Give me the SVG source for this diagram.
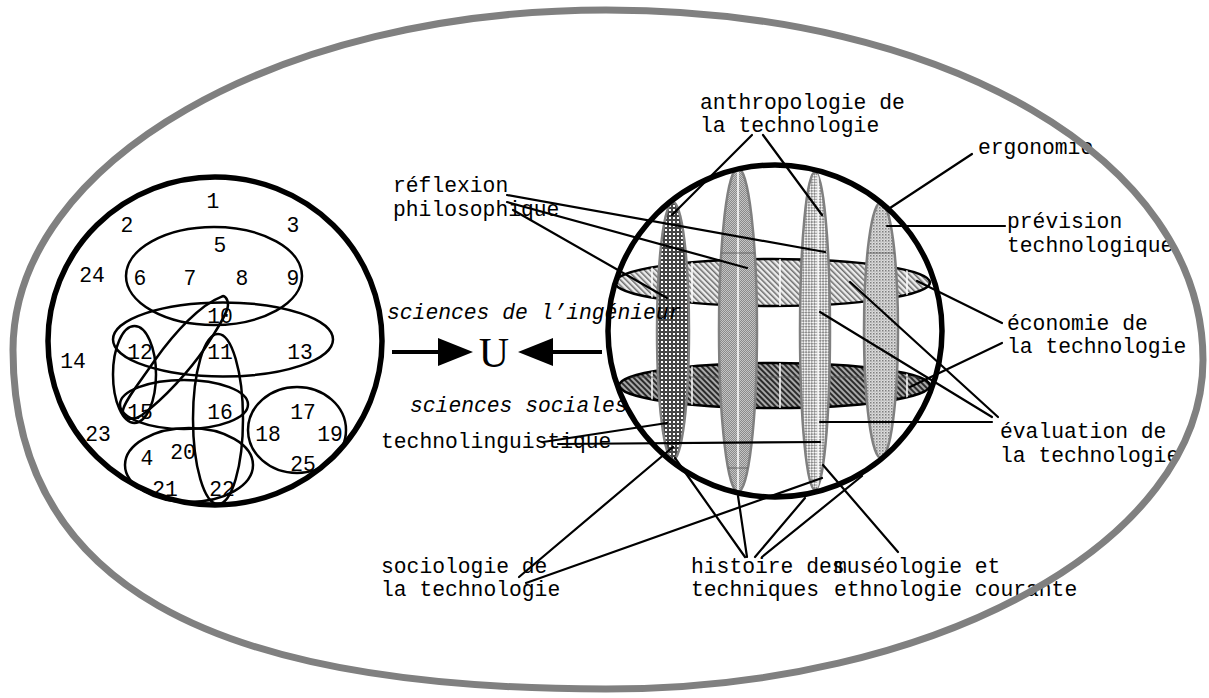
<svg xmlns="http://www.w3.org/2000/svg" width="1209" height="698" viewBox="0 0 1209 698">
<defs>
<style>
.num{font-family:"Liberation Mono","Courier New",monospace;font-size:21.33px;fill:#000;text-anchor:middle}
.lbl{font-family:"Liberation Mono","Courier New",monospace;font-size:21.33px;fill:#000}
.it{font-style:italic}
.set{fill:none;stroke:#000;stroke-width:2.5}
.con{stroke:#000;stroke-width:2.2;fill:none;stroke-linecap:round}
.vert{stroke:#808080;stroke-width:2.5}
.disk{stroke:#000;stroke-width:2.5}
.wl{stroke:#fff;stroke-width:1.5}
.gl{stroke:#555;stroke-width:0.8}
</style>
<pattern id="pD1" width="4" height="4" patternUnits="userSpaceOnUse" patternTransform="rotate(-45)">
<rect width="4" height="4" fill="#ececec"/><rect width="1.5" height="4" fill="#6a6a6a"/>
</pattern>
<pattern id="pD2" width="4" height="4" patternUnits="userSpaceOnUse" patternTransform="rotate(-45)">
<rect width="4" height="4" fill="#a8a8a8"/><rect width="2" height="4" fill="#2a2a2a"/>
</pattern>
<pattern id="pV1" width="4" height="4" patternUnits="userSpaceOnUse">
<rect width="4" height="4" fill="#444"/><rect x="1" y="1" width="2" height="2" fill="#fff"/>
</pattern>
<pattern id="pV2" width="2" height="2" patternUnits="userSpaceOnUse">
<rect width="2" height="2" fill="#8a8a8a"/><rect width="1" height="1" fill="#c4c4c4"/><rect x="1" y="1" width="1" height="1" fill="#c4c4c4"/>
</pattern>
<pattern id="pV3" width="4" height="4" patternUnits="userSpaceOnUse" patternTransform="rotate(45)">
<rect width="4" height="4" fill="#f4f4f4"/><rect width="2" height="2" fill="#8c8c8c"/><rect x="2" y="2" width="2" height="2" fill="#8c8c8c"/>
</pattern>
<pattern id="pV4" width="3" height="3" patternUnits="userSpaceOnUse">
<rect width="3" height="3" fill="#dcdcdc"/><rect width="1.5" height="1.5" fill="#7e7e7e"/><rect x="1.5" y="1.5" width="1" height="1" fill="#9a9a9a"/>
</pattern>
<clipPath id="cD1"><ellipse cx="772.5" cy="282.5" rx="157.5" ry="23.5"/></clipPath>
<clipPath id="cD2"><ellipse cx="774.5" cy="385.5" rx="155.5" ry="22.5"/></clipPath>
<clipPath id="cV2"><ellipse cx="738" cy="330" rx="19" ry="162"/></clipPath>
<clipPath id="cV3"><ellipse cx="815" cy="331" rx="15" ry="159"/></clipPath>
<clipPath id="cV4"><ellipse cx="881" cy="330" rx="17" ry="128"/></clipPath>
</defs>

<rect width="1209" height="698" fill="#fff"/>

<!-- left set diagram -->
<g id="left-set">
<ellipse cx="215" cy="341" rx="167" ry="164" fill="none" stroke="#000" stroke-width="5.5"/>
<ellipse class="set" cx="214" cy="276" rx="88" ry="49"/>
<ellipse class="set" cx="223" cy="339.5" rx="110" ry="37"/>
<ellipse class="set" cx="134.5" cy="374.5" rx="21.5" ry="48.5"/>
<ellipse class="set" cx="184" cy="404.5" rx="64" ry="24.5"/>
<ellipse class="set" cx="218" cy="419" rx="25" ry="85"/>
<ellipse class="set" cx="297" cy="430" rx="49" ry="43"/>
<ellipse class="set" cx="189" cy="465" rx="64" ry="37"/>
<path class="set" d="M221.7,296.7 C200,305 175,332 155,360 C140,382 125,400 123,410 C121,420 133,421 142,415 C165,398 190,370 205,348 C218,328 228,312 228,305 C228,298 224,295 221.7,296.7 Z"/>
<text class="num" x="213" y="208">1</text>
<text class="num" x="127" y="232">2</text>
<text class="num" x="293" y="232">3</text>
<text class="num" x="220" y="252">5</text>
<text class="num" x="92" y="282">24</text>
<text class="num" x="140" y="285">6</text>
<text class="num" x="190" y="285">7</text>
<text class="num" x="242" y="285">8</text>
<text class="num" x="293" y="285">9</text>
<text class="num" x="220" y="323">10</text>
<text class="num" x="140" y="359">12</text>
<text class="num" x="220" y="359">11</text>
<text class="num" x="300" y="359">13</text>
<text class="num" x="73" y="368">14</text>
<text class="num" x="140" y="419">15</text>
<text class="num" x="220" y="419">16</text>
<text class="num" x="303" y="419">17</text>
<text class="num" x="268" y="441">18</text>
<text class="num" x="330" y="441">19</text>
<text class="num" x="98" y="441">23</text>
<text class="num" x="147" y="465">4</text>
<text class="num" x="183" y="459">20</text>
<text class="num" x="303" y="471">25</text>
<text class="num" x="165" y="496">21</text>
<text class="num" x="222" y="496">22</text>
</g>

<!-- right sphere -->
<g id="sphere">
<ellipse cx="772.5" cy="282.5" rx="157.5" ry="23.5" fill="url(#pD1)" class="disk"/>
<g clip-path="url(#cD1)">
<line class="wl" x1="652" y1="250" x2="652" y2="315"/>
<line class="wl" x1="692" y1="250" x2="692" y2="315"/>
<line class="wl" x1="780" y1="250" x2="780" y2="315"/>
<line class="wl" x1="907" y1="250" x2="907" y2="315"/>
</g>
<ellipse cx="774.5" cy="385.5" rx="155.5" ry="22.5" fill="url(#pD2)" class="disk"/>
<g clip-path="url(#cD2)">
<line class="wl" x1="652" y1="355" x2="652" y2="415"/>
<line class="wl" x1="692" y1="355" x2="692" y2="415"/>
<line class="wl" x1="780" y1="355" x2="780" y2="415"/>
<line class="wl" x1="907" y1="355" x2="907" y2="415"/>
<line class="gl" x1="615" y1="377" x2="935" y2="377"/>
</g>
<ellipse cx="673" cy="331" rx="16" ry="129" fill="url(#pV1)" class="vert"/>
<ellipse cx="738" cy="330" rx="19" ry="162" fill="url(#pV2)" class="vert"/>
<g clip-path="url(#cV2)">
<line class="wl" x1="738" y1="165" x2="738" y2="495"/>
<line class="gl" x1="715" y1="253" x2="760" y2="253"/>
<line class="gl" x1="715" y1="468" x2="760" y2="468"/>
</g>
<ellipse cx="815" cy="331" rx="15" ry="159" fill="url(#pV3)" class="vert"/>
<g clip-path="url(#cV3)">
<line class="wl" x1="818" y1="170" x2="818" y2="492"/>
</g>
<ellipse cx="881" cy="330" rx="17" ry="128" fill="url(#pV4)" class="vert"/>
<g clip-path="url(#cV4)">
<line class="gl" x1="860" y1="253" x2="900" y2="253"/>
</g>
<ellipse cx="775" cy="331" rx="167" ry="166" fill="none" stroke="#000" stroke-width="5.5"/>
</g>

<!-- union -->
<g id="union">
<line x1="392" y1="352" x2="442" y2="352" stroke="#000" stroke-width="4"/>
<polygon points="438,338 473,352 438,366" fill="#000"/>
<line x1="549" y1="352" x2="602" y2="352" stroke="#000" stroke-width="4"/>
<polygon points="553,338 518,352 553,366" fill="#000"/>
<text x="494" y="367" font-family="Liberation Serif, Times New Roman, serif" font-size="42" text-anchor="middle">U</text>
</g>

<!-- labels -->
<g id="lbl-ingenieur"><text class="lbl it" x="387" y="319">sciences de l’ingénieur</text></g>
<g id="lbl-sociales"><text class="lbl it" x="410" y="412">sciences sociales</text></g>
<g id="lbl-reflexion"><text class="lbl" x="393" y="192">réflexion</text><text class="lbl" x="393" y="216">philosophique</text></g>
<g id="lbl-anthropologie"><text class="lbl" x="700" y="109">anthropologie de</text><text class="lbl" x="700" y="132">la technologie</text></g>
<g id="lbl-ergonomie"><text class="lbl" x="978" y="154">ergonomie</text></g>
<g id="lbl-prevision"><text class="lbl" x="1007" y="228">prévision</text><text class="lbl" x="1007" y="252">technologique</text></g>
<g id="lbl-economie"><text class="lbl" x="1007" y="330">économie de</text><text class="lbl" x="1007" y="353">la technologie</text></g>
<g id="lbl-evaluation"><text class="lbl" x="1000" y="438">évaluation de</text><text class="lbl" x="1000" y="462">la technologie</text></g>
<g id="lbl-technolinguistique"><text class="lbl" x="381" y="448">technolinguistique</text></g>
<g id="lbl-sociologie"><text class="lbl" x="381" y="573">sociologie de</text><text class="lbl" x="381" y="596">la technologie</text></g>
<g id="lbl-histoire"><text class="lbl" x="691" y="573">histoire des</text><text class="lbl" x="691" y="596">techniques</text></g>
<g id="lbl-museologie"><text class="lbl" x="834" y="573">muséologie et</text><text class="lbl" x="834" y="596">ethnologie courante</text></g>

<!-- connectors -->
<g id="connectors">
<line class="con" x1="752" y1="135" x2="672" y2="215"/>
<line class="con" x1="763" y1="135" x2="822" y2="215"/>
<line class="con" x1="972" y1="154" x2="890" y2="208"/>
<line class="con" x1="887" y1="226" x2="1005" y2="226"/>
<line class="con" x1="507" y1="195" x2="825" y2="252"/>
<line class="con" x1="507" y1="202" x2="747" y2="268"/>
<line class="con" x1="513" y1="210" x2="667" y2="298"/>
<line class="con" x1="1002" y1="323" x2="917" y2="281"/>
<line class="con" x1="1002" y1="343" x2="910" y2="387"/>
<line class="con" x1="998" y1="417" x2="850" y2="282"/>
<line class="con" x1="992" y1="417" x2="820" y2="312"/>
<line class="con" x1="992" y1="422" x2="820" y2="422"/>
<line class="con" x1="543" y1="442" x2="667" y2="423"/>
<line class="con" x1="558" y1="444" x2="820" y2="442"/>
<line class="con" x1="519" y1="577" x2="673" y2="447"/>
<line class="con" x1="526" y1="583" x2="822" y2="478"/>
<line class="con" x1="675" y1="458" x2="745" y2="557"/>
<line class="con" x1="738" y1="496" x2="747" y2="557"/>
<line class="con" x1="805" y1="498" x2="755" y2="557"/>
<line class="con" x1="862" y1="476" x2="762" y2="557"/>
<line class="con" x1="823" y1="465" x2="898" y2="552"/>
</g>

<!-- outer boundary -->
<g id="outer">
<path d="M606,10 C946,10 1203,160 1203,360 C1203,542 936,689 606,689 C203,689 13,580 13,350 C13,162 278,10 606,10 Z" fill="none" stroke="#808080" stroke-width="7"/>
</g>
</svg>
